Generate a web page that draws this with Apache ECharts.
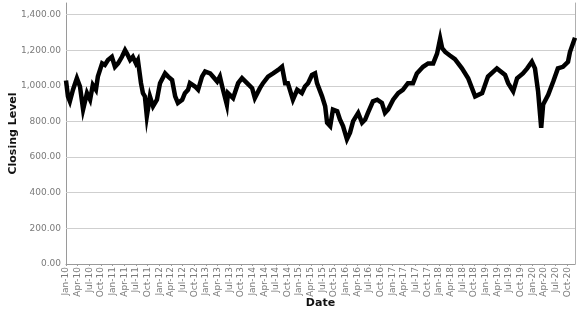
<!DOCTYPE html>
<html>
<head>
<meta charset="utf-8">
<script src="https://cdn.jsdelivr.net/npm/echarts@6/dist/echarts.min.js"></script>
<style>html,body{margin:0;padding:0;background:#fff}#c{width:580px;height:312px}</style>
</head>
<body>
<div id="c"></div>
<script>
// Months since Jan 2010 (fractional) and closing levels
const monthIdx = [0,0.5,1.0,1.8,2.8,3.6,4.4,5.4,6.2,6.9,7.7,8.2,9.3,10.0,10.8,11.8,12.6,13.4,14.4,15.2,15.7,16.5,17.2,18.0,18.5,19.3,19.8,20.3,20.8,21.6,22.4,23.4,24.2,25.5,26.3,27.3,28.1,28.8,29.9,30.6,31.4,31.9,33.2,34.0,35.0,35.8,37.1,37.8,38.9,39.6,40.2,41.4,41.7,43.0,44.3,45.3,46.6,47.9,48.6,49.9,50.7,52.0,53.3,54.6,55.6,56.4,57.1,58.4,59.5,60.7,61.5,62.3,63.3,64.1,64.6,65.9,66.7,67.2,68.0,68.7,69.8,70.5,71.3,72.3,73.1,73.9,75.2,76.2,77.0,77.7,79.0,80.1,81.3,82.1,82.9,84.2,85.5,86.7,88.0,89.3,90.3,91.9,93.2,94.5,95.5,96.3,96.8,97.6,98.8,100.1,101.9,103.5,105.3,107.1,108.6,110.9,113.0,113.8,115.1,116.1,117.6,118.7,119.9,120.7,121.5,122.3,122.8,124.1,125.4,126.6,127.9,129.2,129.7,131.0];
const closes = [1030,941,913,978,1043,996,867,959,922,1005,978,1052,1126,1117,1145,1163,1107,1126,1163,1200,1181,1145,1163,1126,1145,1015,959,941,830,941,885,922,1015,1070,1052,1033,941,904,922,959,978,1015,996,978,1052,1080,1070,1052,1024,1052,996,894,959,931,1015,1043,1015,987,931,987,1015,1052,1070,1089,1107,1015,1015,922,978,959,996,1015,1061,1070,1015,941,885,793,774,867,858,811,774,700,737,802,848,793,811,848,913,922,904,848,867,922,959,978,1015,1015,1070,1107,1126,1126,1181,1265,1212,1190,1170,1150,1098,1043,941,959,1052,1098,1061,1015,969,1043,1070,1098,1135,1098,969,765,895,950,1024,1098,1107,1135,1190,1270];
const monthNames = ['Jan','Feb','Mar','Apr','May','Jun','Jul','Aug','Sep','Oct','Nov','Dec'];
const yTicks = [200,400,600,800,1000,1200,1400];

const chart = echarts.init(document.getElementById('c'), null, {renderer:'canvas'});
const grayTxt = '#7a7a7a';
chart.setOption({
  animation:false,
  grid:{left:66,right:5,top:3,bottom:48,containLabel:false,outerBoundsMode:'none'},
  xAxis:{
    type:'value',min:0,max:131,interval:3,
    name:'Date',nameLocation:'middle',nameGap:34,nameMoveOverlap:false,
    nameTextStyle:{fontFamily:'DejaVu Sans',fontSize:11,fontWeight:'bold',color:'#111'},
    axisLine:{show:true,onZero:false,lineStyle:{color:'#9a9a9a',width:1}},
    axisTick:{show:true,length:2,lineStyle:{color:'#9a9a9a'}},
    splitLine:{show:false},
    axisLabel:{rotate:90,fontFamily:'DejaVu Sans',fontSize:9,color:grayTxt,margin:3,showMaxLabel:false,
      formatter:function(v){const m=Math.round(v);return monthNames[m%12]+'-'+(10+Math.floor(m/12));}}
  },
  yAxis:[{
    type:'value',min:0,max:1465,interval:200,
    name:'Closing Level',nameLocation:'middle',nameGap:47,nameRotate:90,nameMoveOverlap:false,
    nameTextStyle:{fontFamily:'DejaVu Sans',fontSize:11,fontWeight:'bold',color:'#111'},
    axisLine:{show:true,lineStyle:{color:'#9a9a9a',width:1}},
    axisTick:{show:false},
    splitLine:{show:false},
    axisLabel:{fontFamily:'DejaVu Sans',fontSize:9,color:grayTxt,margin:5,showMaxLabel:false,
      formatter:function(v){return v.toLocaleString('en-US',{minimumFractionDigits:2,maximumFractionDigits:2});}}
  },{
    type:'value',min:0,max:1465,position:'right',
    axisLine:{show:true,lineStyle:{color:'#b0b0b0',width:1}},
    axisTick:{show:false},axisLabel:{show:false},splitLine:{show:false}
  }],
  series:[{
    type:'line',
    data:monthIdx.map((m,i)=>[m,closes[i]]),
    showSymbol:false,
    lineStyle:{color:'#000',width:4.5,join:'miter'},
    z:3,
    markLine:{
      silent:true,symbol:['none','none'],label:{show:false},animation:false,
      lineStyle:{color:'#cfcfcf',width:1,type:'solid'},
      data:yTicks.map(v=>({yAxis:v})),
      z:1
    }
  }]
});
</script>
</body>
</html>
